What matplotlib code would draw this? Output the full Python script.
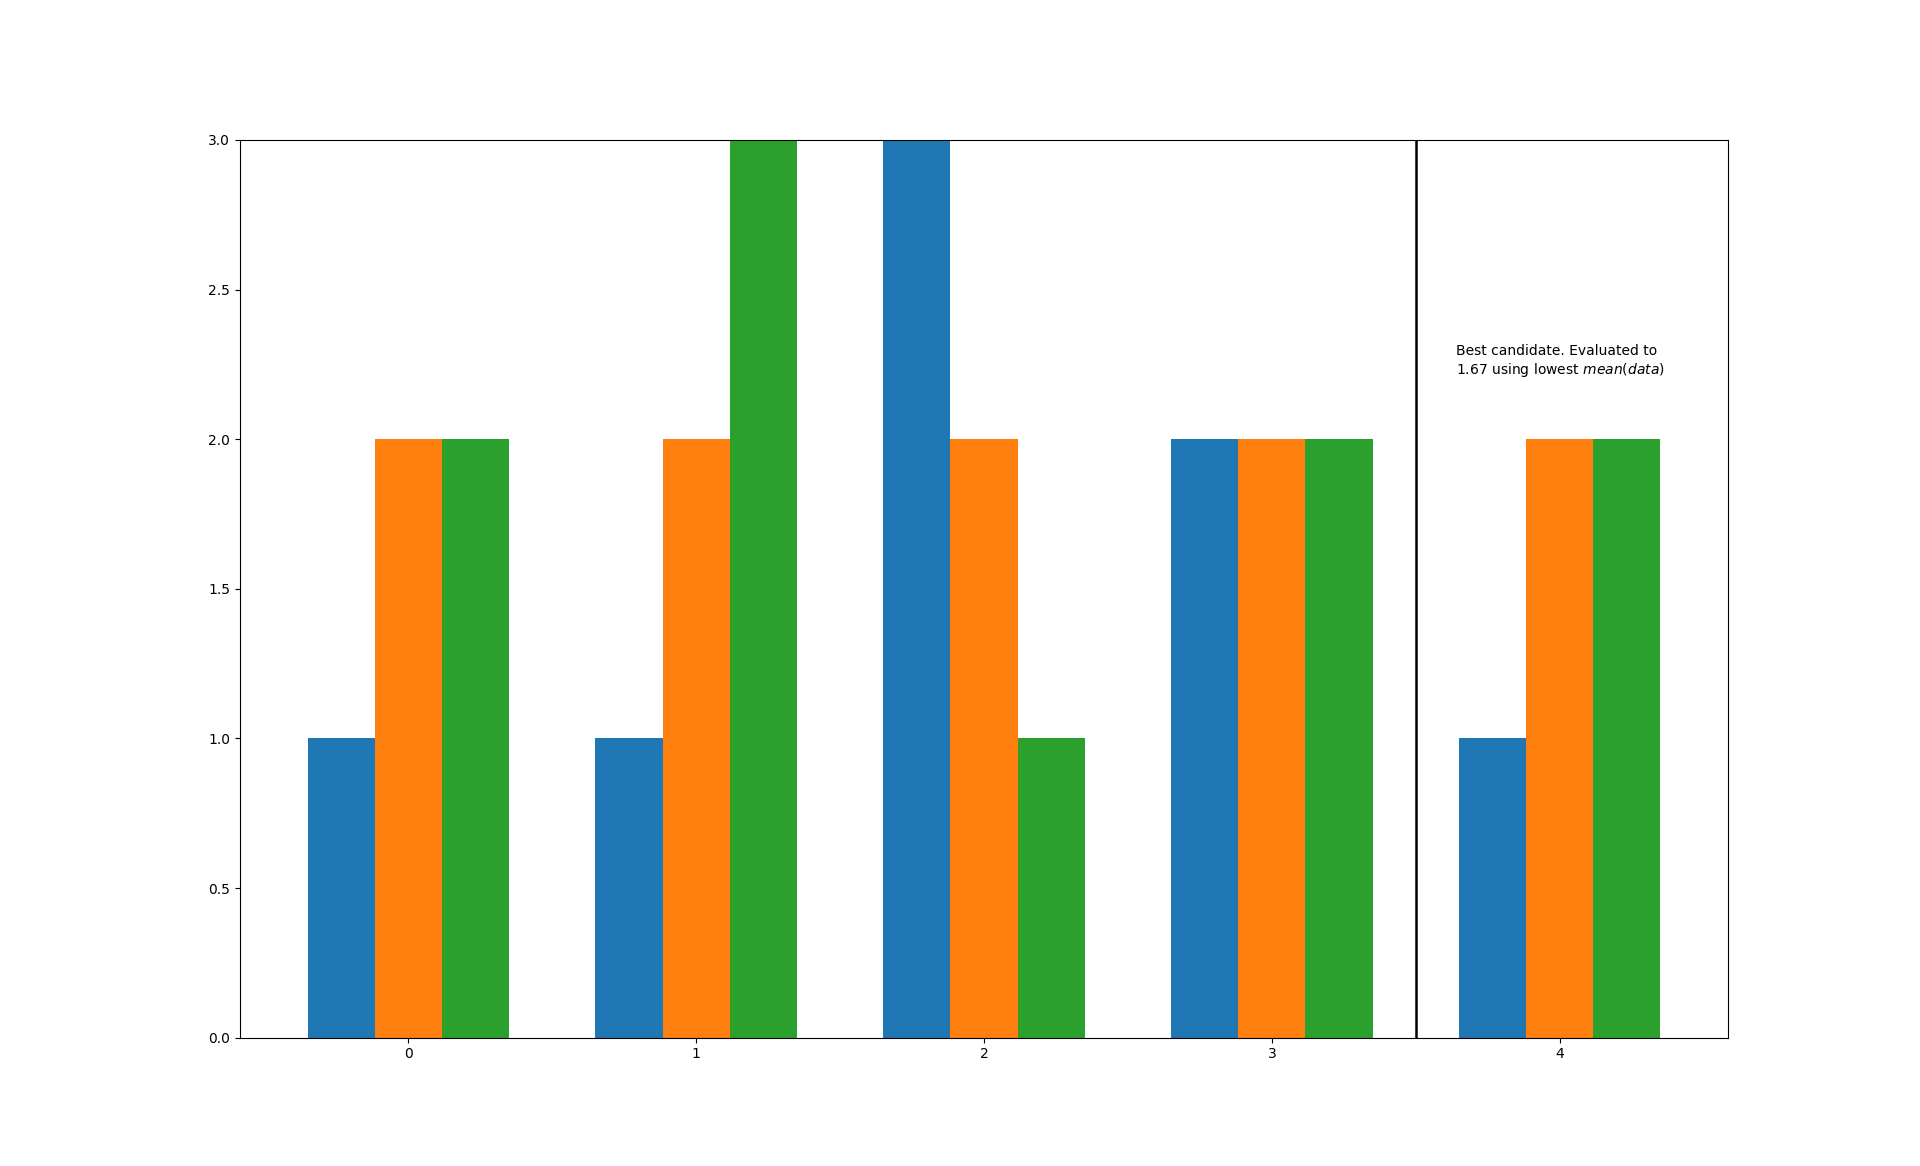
import numpy as np
import matplotlib.pyplot as plt

groups = [0, 1, 2, 3, 4]
series_a = [1, 1, 3, 2, 1]
series_b = [2, 2, 2, 2, 2]
series_c = [2, 3, 1, 2, 2]
best_split = 3.5
note = "Best candidate. Evaluated to\n1.67 using lowest $mean(data)$"

x = np.array(groups)
w = 0.7 / 3

fig, ax = plt.subplots(figsize=(19.2, 11.66), dpi=100)
ax.bar(x - w, series_a, width=w, color='C0')
ax.bar(x, series_b, width=w, color='C1')
ax.bar(x + w, series_c, width=w, color='C2')
ax.axvline(best_split, color='black', linewidth=1.8)
ax.text(3.64, 2.26, note, ha='left', va='center', fontsize=10)
ax.set_ylim(0, 3)
ax.set_xticks(groups)
fig.savefig('out.png', dpi=100)
